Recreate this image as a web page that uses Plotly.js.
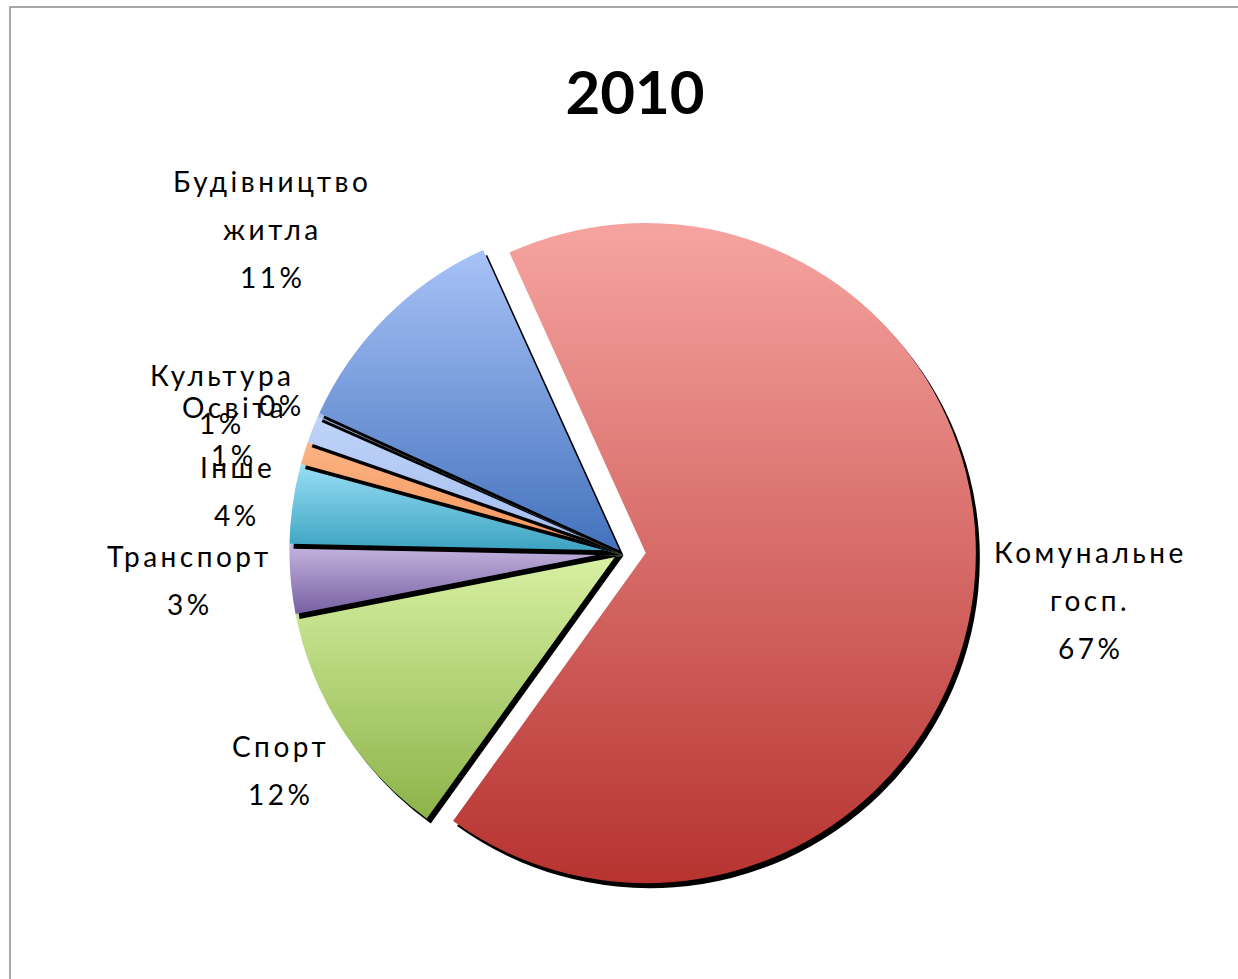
<!DOCTYPE html>
<html><head><meta charset="utf-8">
<script src="https://cdn.plot.ly/plotly-3.0.1.min.js"></script>
<style>
body{margin:0;background:#fff}
.annotation-text{letter-spacing:3.5px}
</style>
</head><body>
<div id="chart" style="width:1238px;height:979px"></div>
<script>
// ---- data ----
const categories = ['Комунальне госп.', 'Спорт', 'Транспорт', 'Інше', 'Освіта', 'Культура', ' ', 'Будівництво житла'];
const shares = [66.7, 12.0, 3.4, 3.9, 1.1, 1.3, 0.2, 11.4];
const chartTitle = '2010';

// ---- styles ----
const sliceColors = ['#DA7470', '#BCD985', '#9E8AC2', '#69C0D9', '#F8A66E', '#B0C8F3', '#8FAAE3', '#7E9FE0'];
const gradTop    = ['#F6A4A0', '#D8F2A4', '#C6B6E0', '#98DEF5', '#FBB383', '#C0D4F8', '#A8C2F4', '#A8C3F7'];
const gradBottom = ['#B73330', '#8DB349', '#7760A2', '#3CA3C1', '#F5955A', '#A2BCEF', '#6F93D6', '#4472BD'];
const pulls = [0.08, 0, 0, 0, 0, 0, 0, 0];
const W = 1238, H = 979;
const dom = {x: [263 / W, 976 / W], y: [1 - 907 / H, 1 - 194 / H]};
const shadowDx = 4 / W, shadowDy = 5 / H;
const labelAnchors = [[1090, 552], [280, 746], [190, 556], [237, 467], [234, 407], [222, 375], [282, 405], [272, 181]];
const lineGap = 48;

const traces = [];
categories.forEach((c, i) => {
  const shadowCols = categories.map((_, j) => j === i ? '#000000' : 'rgba(0,0,0,0)');
  const fillCols = categories.map((_, j) => j === i ? sliceColors[j] : 'rgba(0,0,0,0)');
  const base = {
    type: 'pie', labels: categories, values: shares, sort: false,
    direction: 'clockwise', rotation: -24.4, pull: pulls,
    textinfo: 'none', hoverinfo: 'label+percent', showlegend: false
  };
  traces.push(Object.assign({}, base, {
    marker: {colors: shadowCols, line: {width: 0}},
    domain: {x: [dom.x[0] + shadowDx, dom.x[1] + shadowDx], y: [dom.y[0] - shadowDy, dom.y[1] - shadowDy]}
  }));
  traces.push(Object.assign({}, base, {
    marker: {colors: fillCols, line: {width: 0}},
    domain: dom
  }));
});

const total = shares.reduce((a, b) => a + b, 0);
const annotations = [];
categories.forEach((c, i) => {
  const lines = c.split(' ').filter(s => s.length > 0);
  lines.push(Math.round(shares[i] / total * 100) + '%');
  const [px, py] = labelAnchors[i];
  lines.forEach((t, k) => {
    annotations.push({
      xref: 'paper', yref: 'paper', x: px / W, y: 1 - (py + k * lineGap) / H,
      xanchor: 'center', yanchor: 'middle', showarrow: false, text: t,
      font: {family: 'Lato, sans-serif', size: 28, color: '#000'}
    });
  });
});

const layout = {
  width: W, height: H,
  margin: {l: 0, r: 0, t: 0, b: 0},
  paper_bgcolor: '#ffffff',
  title: {text: '<b>' + chartTitle + '</b>', font: {family: 'Lato, sans-serif', size: 60, color: '#000'},
          x: 635 / W, xanchor: 'center', y: 1 - 93 / H, yanchor: 'middle', yref: 'container'},
  annotations: annotations,
  shapes: [{type: 'rect', xref: 'paper', yref: 'paper', x0: 10 / W, x1: 1.02, y0: -0.02, y1: 1 - 7 / H,
            line: {color: '#8c8c8c', width: 1.5}, fillcolor: 'rgba(0,0,0,0)'}]
};

Plotly.newPlot('chart', traces, layout, {displayModeBar: false, staticPlot: true}).then(gd => {
  // vertical gradient fill on each slice (style only)
  const svg = gd.querySelector('.main-svg');
  const NS = 'http://www.w3.org/2000/svg';
  const defs = document.createElementNS(NS, 'defs');
  gradTop.forEach((top, i) => {
    const lg = document.createElementNS(NS, 'linearGradient');
    lg.setAttribute('id', 'sliceGrad' + i);
    lg.setAttribute('x1', '0'); lg.setAttribute('y1', '0');
    lg.setAttribute('x2', '0'); lg.setAttribute('y2', '1');
    [[0, top], [1, gradBottom[i]]].forEach(([o, col]) => {
      const st = document.createElementNS(NS, 'stop');
      st.setAttribute('offset', o); st.setAttribute('stop-color', col);
      lg.appendChild(st);
    });
    defs.appendChild(lg);
  });
  svg.insertBefore(defs, svg.firstChild);
  const pieTraces = gd.querySelectorAll('.pielayer .trace');
  categories.forEach((c, i) => {
    const tr = pieTraces[2 * i + 1];
    if (!tr) return;
    const slices = tr.querySelectorAll('g.slice path.surface');
    if (slices[i]) slices[i].style.fill = 'url(#sliceGrad' + i + ')';
  });
});
</script>
</body></html>
